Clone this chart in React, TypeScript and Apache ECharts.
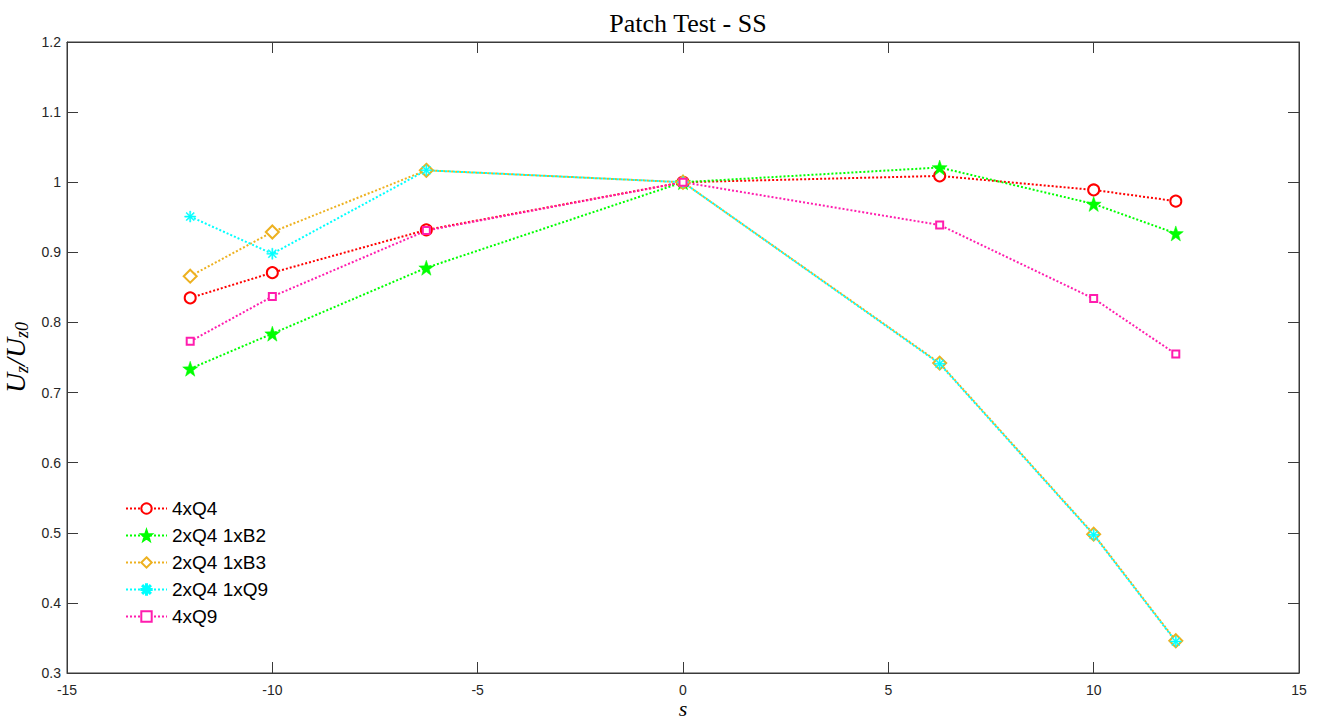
import React, { useEffect, useRef } from "react";
import * as echarts from "echarts";

const sValues = [-12, -10, -6.25, 0, 6.25, 10, 12];
const seriesNames = ["4xQ4", "2xQ4 1xB2", "2xQ4 1xB3", "2xQ4 1xQ9", "4xQ9"];
const q4x4 = [0.835, 0.871, 0.932, 1.0, 1.009, 0.989, 0.973];
const q4b2 = [0.734, 0.784, 0.878, 1.0, 1.021, 0.969, 0.927];
const q4b3 = [0.866, 0.929, 1.017, 1.0, 0.742, 0.498, 0.346];
const q4q9 = [0.951, 0.898, 1.017, 1.0, 0.741, 0.497, 0.345];
const q9x4 = [0.773, 0.837, 0.931, 1.0, 0.939, 0.834, 0.755];
const xTicks = { min: -15, max: 15, step: 5 };
const yTicks = { min: 0.3, max: 1.2, step: 0.1 };
const xLabel = "s";

const asterisk =
  "path://M-1,-10L1,-10L1,-2.4L6.4,-7.8L7.8,-6.4L2.4,-1L10,-1L10,1L2.4,1L7.8,6.4L6.4,7.8L1,2.4L1,10L-1,10L-1,2.4L-6.4,7.8L-7.8,6.4L-2.4,1L-10,1L-10,-1L-2.4,-1L-7.8,-6.4L-6.4,-7.8L-1,-2.4Z";
const pentagram =
  "path://M0,-10L2.35,-3.24L9.51,-3.09L3.8,1.24L5.88,8.09L0,4L-5.88,8.09L-3.8,1.24L-9.51,-3.09L-2.35,-3.24Z";

export default function App() {
  const ref = useRef<HTMLDivElement>(null);
  useEffect(() => {
    if (!ref.current) return;
    const chart = echarts.init(ref.current, null, { renderer: "svg" });
    const axisColor = "#3a3a3a";
    const tickFont = { fontFamily: "Liberation Sans, Arial", fontSize: 14, color: "#262626" };
    const mk = (
      name: string,
      data: number[],
      color: string,
      symbol: string,
      size: number,
      filled: boolean
    ) => ({
      name,
      type: "line",
      data: sValues.map((s, i) => [s, data[i]]),
      symbol,
      symbolSize: size,
      lineStyle: { color, width: 2, type: [2, 2] },
      itemStyle: filled
        ? { color, borderColor: color, borderWidth: 0.5 }
        : { color, borderColor: color, borderWidth: 2 },
      emphasis: { disabled: true },
    });
    const tickCommon = { show: true, inside: true, length: 11, lineStyle: { color: axisColor } };
    chart.setOption({
      animation: false,
      backgroundColor: "#ffffff",
      title: {
        text: "Patch Test - SS",
        left: 683,
        textAlign: "center",
        top: 5,
        textStyle: {
          fontFamily: "Liberation Serif, serif",
          fontWeight: "normal",
          fontSize: 26,
          color: "#000",
        },
      },
      graphic: [
        {
          type: "text",
          x: 683,
          y: 708,
          style: {
            text: xLabel,
            fontFamily: "Liberation Serif, serif",
            fontStyle: "italic",
            fontSize: 22,
            fill: "#000",
            align: "center",
            verticalAlign: "middle",
          },
        },
      ],
      grid: {
        left: 67,
        right: 21,
        top: 42,
        bottom: 49,
        show: true,
        borderColor: axisColor,
        borderWidth: 1,
        containLabel: false,
        outerBoundsMode: "none",
      },
      legend: {
        orient: "vertical",
        left: 120,
        top: 494,
        itemWidth: 41,
        itemHeight: 13,
        itemGap: 8,
        data: seriesNames,
        textStyle: { fontFamily: "Liberation Sans, Arial", fontSize: 19, color: "#000" },
      },
      xAxis: [
        {
          type: "value",
          min: xTicks.min,
          max: xTicks.max,
          interval: xTicks.step,
          axisLine: { show: true, onZero: false, lineStyle: { color: axisColor } },
          axisTick: tickCommon,
          axisLabel: { ...tickFont, margin: 10 },
          splitLine: { show: false },
        },
        {
          type: "value",
          position: "top",
          min: xTicks.min,
          max: xTicks.max,
          interval: xTicks.step,
          axisLine: { show: true, onZero: false, lineStyle: { color: axisColor } },
          axisTick: tickCommon,
          axisLabel: { show: false },
          splitLine: { show: false },
        },
      ],
      yAxis: [
        {
          type: "value",
          min: yTicks.min,
          max: yTicks.max,
          interval: yTicks.step,
          name: "{u|U}{s|z}{u|/U}{s|z0}",
          nameLocation: "middle",
          nameRotate: 90,
          nameGap: 30,
          nameTextStyle: {
            rich: {
              u: { fontFamily: "Liberation Serif, serif", fontStyle: "italic", fontSize: 28, color: "#000", lineHeight: 26, verticalAlign: "middle" },
              s: { fontFamily: "Liberation Serif, serif", fontStyle: "italic", fontSize: 18, color: "#000", lineHeight: 26, padding: [12, 0, 0, 0] },
            },
          },
          axisLine: { show: true, onZero: false, lineStyle: { color: axisColor } },
          axisTick: tickCommon,
          axisLabel: { ...tickFont, margin: 6 },
          splitLine: { show: false },
        },
        {
          type: "value",
          position: "right",
          min: yTicks.min,
          max: yTicks.max,
          interval: yTicks.step,
          axisLine: { show: true, onZero: false, lineStyle: { color: axisColor } },
          axisTick: tickCommon,
          axisLabel: { show: false },
          splitLine: { show: false },
        },
      ],
      series: [
        mk(seriesNames[0], q4x4, "#ff0000", "emptyCircle", 11, false),
        mk(seriesNames[1], q4b2, "#00ff00", pentagram, 15, true),
        mk(seriesNames[2], q4b3, "#edb120", "emptyDiamond", 13, false),
        mk(seriesNames[3], q4q9, "#00ffff", asterisk, 11, true),
        mk(seriesNames[4], q9x4, "#ff1dae", "emptyRect", 7, false),
      ],
    });
    return () => chart.dispose();
  }, []);
  return (
    <div
      ref={ref}
      style={{ position: "absolute", left: 0, top: 0, width: 1320, height: 722, background: "#fff" }}
    />
  );
}
